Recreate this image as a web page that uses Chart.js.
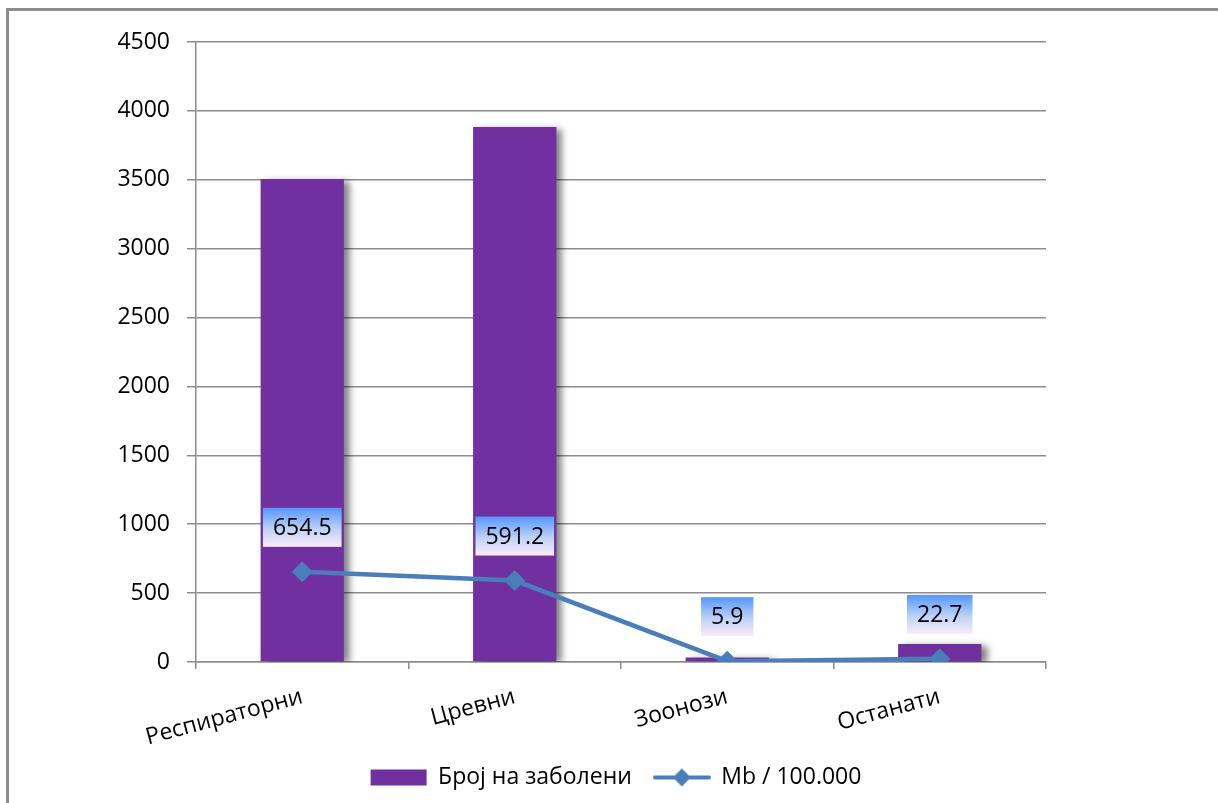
<!DOCTYPE html>
<html>
<head>
<meta charset="utf-8">
<script src="https://cdn.jsdelivr.net/npm/chart.js@4/dist/chart.umd.min.js"></script>
<style>
  html, body { margin: 0; padding: 0; background: #fff; }
  #wrap { position: absolute; left: 0; top: 0; width: 1218px; height: 803px; }
  #frame { position: absolute; left: 6px; top: 8px; width: 1212px; height: 795px;
           border-top: 3px solid #8c8c8c; border-left: 3px solid #8c8c8c; box-sizing: border-box; pointer-events: none; }
</style>
</head>
<body>
<div id="wrap"><canvas id="c" width="1218" height="803"></canvas></div>
<div id="frame"></div>
<script>
const categories = ["Респираторни", "Цревни", "Зоонози", "Останати"];
const casesLabel = "Број на заболени";
const casesValues = [3505, 3883, 33, 130];
const rateLabel = "Mb / 100.000";
const rateValues = [654.5, 591.2, 5.9, 22.7];
const yTicks = [0, 500, 1000, 1500, 2000, 2500, 3000, 3500, 4000, 4500];

const BAR_COLOR = '#7030A0';
const LINE_COLOR = '#4A7EBB';
const GRID = '#8c8c8c';
const FONT = "'Open Sans', 'Liberation Sans', sans-serif";

function makeIcon(kind) {
  const cv = document.createElement('canvas');
  cv.width = 58; cv.height = 22;
  const g = cv.getContext('2d');
  if (kind === 'bar') {
    g.fillStyle = BAR_COLOR;
    g.fillRect(1, 3, 56, 16);
  } else {
    g.strokeStyle = LINE_COLOR; g.lineWidth = 4; g.lineCap = 'round';
    g.beginPath(); g.moveTo(2, 11); g.lineTo(56, 11); g.stroke();
    g.fillStyle = LINE_COLOR;
    g.beginPath(); g.moveTo(29, 2); g.lineTo(38, 11); g.lineTo(29, 20); g.lineTo(20, 11); g.closePath(); g.fill();
  }
  return cv;
}
const icons = [makeIcon('bar'), makeIcon('line')];

const shadowPlugin = {
  id: 'barShadow',
  beforeDatasetDraw(chart, args) {
    if (args.index !== 0) return;
    const ctx = chart.ctx;
    ctx.save();
    ctx.shadowColor = 'rgba(0,0,0,0.5)';
    ctx.shadowBlur = 7;
    ctx.shadowOffsetX = 6;
    ctx.shadowOffsetY = 2;
  },
  afterDatasetDraw(chart, args) {
    if (args.index !== 0) return;
    chart.ctx.restore();
  }
};

const labelPlugin = {
  id: 'rateLabels',
  afterDatasetsDraw(chart) {
    const meta = chart.getDatasetMeta(1);
    const ctx = chart.ctx;
    ctx.save();
    ctx.font = "23px " + FONT;
    ctx.textAlign = 'center';
    ctx.textBaseline = 'middle';
    meta.data.forEach((pt, i) => {
      const txt = rateValues[i].toFixed(1);
      const tw = ctx.measureText(txt).width;
      const w = tw + 20, h = 39;
      const x0 = pt.x - w / 2;
      const y1 = pt.y - 25;
      const y0 = y1 - h;
      const gr = ctx.createLinearGradient(0, y0, 0, y1);
      gr.addColorStop(0, 'rgb(85,150,255)');
      gr.addColorStop(0.55, 'rgb(190,210,245)');
      gr.addColorStop(1, 'rgb(250,236,250)');
      ctx.fillStyle = gr;
      ctx.fillRect(x0, y0, w, h);
      ctx.fillStyle = '#000';
      ctx.fillText(txt, pt.x, y0 + h / 2 + 1);
    });
    ctx.restore();
  }
};

new Chart(document.getElementById('c'), {
  data: {
    labels: categories,
    datasets: [
      {
        type: 'bar', label: casesLabel, data: casesValues,
        backgroundColor: BAR_COLOR, borderWidth: 0,
        barPercentage: 0.49, categoryPercentage: 0.8, order: 1
      },
      {
        type: 'line', label: rateLabel, data: rateValues,
        borderColor: LINE_COLOR, backgroundColor: LINE_COLOR, borderWidth: 4.5,
        pointStyle: 'rectRot', pointRadius: 10, pointBackgroundColor: LINE_COLOR,
        pointBorderColor: LINE_COLOR, pointBorderWidth: 1, tension: 0, order: 0
      }
    ]
  },
  options: {
    responsive: false,
    animation: false,
    devicePixelRatio: 1,
    layout: { padding: { top: 42, right: 0, left: 14, bottom: 4 } },
    plugins: {
      tooltip: { enabled: false },
      legend: {
        position: 'bottom',
        labels: {
          font: { family: FONT, size: 23 },
          color: '#000',
          usePointStyle: true,
          pointStyleWidth: 56,
          boxHeight: 16,
          padding: 22,
          generateLabels(chart) {
            return chart.data.datasets.map((ds, i) => ({
              text: ds.label, pointStyle: icons[i], fillStyle: 'transparent',
              strokeStyle: 'transparent', lineWidth: 0, datasetIndex: i, hidden: false
            }));
          }
        }
      }
    },
    scales: {
      x: {
        grid: { display: true, drawOnChartArea: false, drawTicks: true, tickLength: 7, color: GRID, lineWidth: 1.5, offset: true },
        border: { display: true, color: GRID, width: 1.5 },
        ticks: { font: { family: FONT, size: 23 }, color: '#000', minRotation: 15, maxRotation: 15, autoSkip: false, padding: 14 },
        afterFit(s) { s.height = 82; }
      },
      y: {
        min: 0, max: 4500,
        afterBuildTicks(s) { s.ticks = yTicks.map(v => ({ value: v })); },
        grid: { color: GRID, lineWidth: 1.5, tickLength: 9 },
        border: { display: true, color: GRID, width: 1.5 },
        ticks: { font: { family: FONT, size: 23 }, color: '#000', padding: 17, callback: v => String(v) },
        afterFit(s) { s.width = 182; }
      },
      yPad: {
        position: 'right', min: 0, max: 1,
        grid: { display: false, drawTicks: false }, border: { display: false },
        ticks: { display: false },
        afterFit(s) { s.width = 172; }
      }
    }
  },
  plugins: [shadowPlugin, labelPlugin]
});
</script>
</body>
</html>
